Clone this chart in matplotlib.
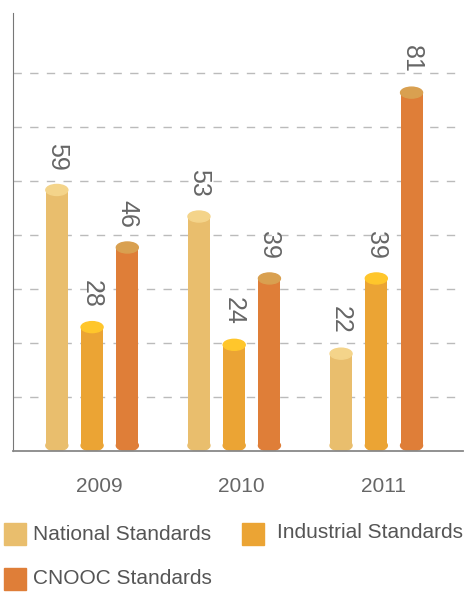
import matplotlib.pyplot as plt
import numpy as np
from matplotlib.patches import Ellipse, Rectangle

plt.rcParams['font.family'] = ['Liberation Sans', 'DejaVu Sans']

years = ['2009', '2010', '2011']
series = ['National Standards', 'Industrial Standards', 'CNOOC Standards']
national = [59, 53, 22]
industrial = [28, 24, 39]
cnooc = [46, 39, 81]

body_colors = ['#E9BE6D', '#EBA434', '#DF7E38']
top_colors = ['#F4D48A', '#FFC62B', '#D9A050']

fig = plt.figure(figsize=(4.75, 5.92), dpi=100)
W, H = 475, 592
ax = fig.add_axes([12.5 / W, (H - 451) / H, (463 - 12.5) / W, (451 - 13) / H])

ymax = 99
ax.set_ylim(0, ymax)
ax.set_xlim(-0.56, 2.61)

# pixel scale for the ellipse caps
px_per_x = (463 - 12.5) / (2.61 + 0.56)
px_per_y = (451 - 13) / ymax
bar_w = 22 / px_per_x
ell_h = 11 / px_per_y

x = np.arange(len(years))
offsets = [-0.248, 0.0, 0.248]

for i, vals in enumerate([national, industrial, cnooc]):
    xs = x + offsets[i]
    ax.bar(xs, np.array(vals) - ell_h / 2, bottom=ell_h / 2, width=bar_w,
           color=body_colors[i], zorder=3)
    for xi, v in zip(xs, vals):
        ax.add_patch(Ellipse((xi, ell_h / 2), bar_w, ell_h, color=body_colors[i], zorder=3))
        ax.add_patch(Ellipse((xi, v), bar_w, ell_h, color=top_colors[i], zorder=4))
        ax.annotate(str(v), (xi, v), xytext=(0, 14), textcoords='offset points',
                    rotation=-90, ha='center', va='bottom', fontsize=18, color='#666666')

# dashed gridlines
for k in range(1, 8):
    ax.axhline(k * 12.2, color='#BBBBBB', linewidth=1, linestyle=(0, (6, 6)), zorder=1)

ax.set_yticks([])
ax.set_xticks(x + 0.05, years)
ax.tick_params(axis='x', length=0, pad=19, labelsize=15, labelcolor='#666666')
for s in ['top', 'right']:
    ax.spines[s].set_visible(False)
ax.spines['left'].set_color('#777777')
ax.spines['bottom'].set_color('#888888')
ax.spines['bottom'].set_linewidth(1.3)
ax.spines['bottom'].set_zorder(5)

# legend
leg_pos = [(4, 523, 33, 535), (242, 523, 277, 533), (4, 568, 33, 578)]
for i, name in enumerate(series):
    sx, sy, tx, ty = leg_pos[i]
    fig.add_artist(Rectangle((sx / W, 1 - (sy + 22) / H), 22 / W, 22 / H,
                             transform=fig.transFigure, color=body_colors[i]))
    fig.text(tx / W, 1 - ty / H, name, ha='left', va='center', fontsize=15, color='#555555')

fig.savefig('out.png', dpi=100)
